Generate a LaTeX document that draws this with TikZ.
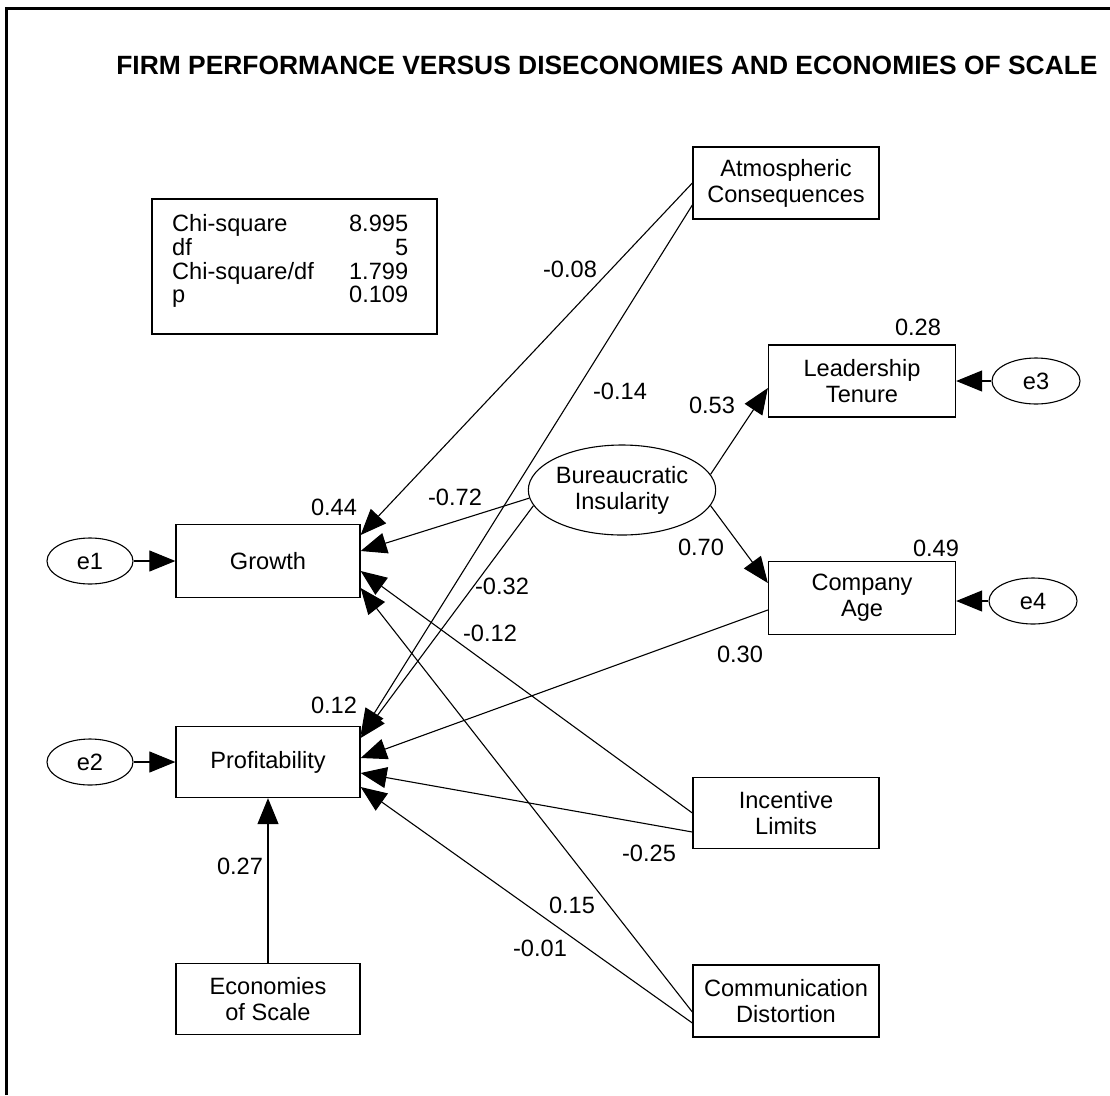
\documentclass[tikz,border=0pt]{standalone}
\usepackage{fontspec}
\setmainfont{Liberation Sans}
\usetikzlibrary{arrows.meta,shapes.geometric,calc}
\begin{document}
\begin{tikzpicture}[x=1pt,y=-1pt,
  every node/.style={font=\fontsize{23.6}{26}\selectfont},
  var/.style={draw, line width=1.3pt, minimum width=186pt, minimum height=72pt, inner sep=0pt, align=center},
  lat/.style={draw, ellipse, line width=1.1pt, inner sep=0pt, align=center},
  err/.style={lat, minimum width=88pt, minimum height=46pt},
  pth/.style={line width=1.1pt, -{Triangle[length=26pt,width=21pt]}},
  coef/.style={inner sep=0pt}]
\useasboundingbox (0,0) rectangle (1110,1095);
% open outer frame
\draw[line width=3pt] (6.5,1095) -- (6.5,8.5) -- (1110,8.5);

\node[font=\fontsize{26.4}{30}\selectfont\bfseries] (title) at (607,65)
  {FIRM PERFORMANCE VERSUS DISECONOMIES AND ECONOMIES OF SCALE};

% fit statistics
\node[draw, line width=1.3pt, minimum width=285pt, minimum height=135pt] (fit) at (294.5,266.5) {};
\node[anchor=base west, inner sep=0pt, font=\fontsize{23.6}{23.4}\selectfont] (fitstats) at (172,231)
  {\begin{tabular*}{236pt}[t]{@{}l@{\extracolsep{\fill}}r@{}}
   Chi-square & 8.995\\
   df & 5\\
   Chi-square/df & 1.799\\
   p & 0.109
   \end{tabular*}};

% observed variables
\node[var] (atmo) at (786,183) {Atmospheric\\Consequences};
\node[var, minimum width=187pt] (lead) at (862,381) {Leadership\\Tenure};
\node[var, minimum width=187pt, minimum height=73pt] (comp) at (862,598) {Company\\Age};
\node[var, minimum height=71pt] (incent) at (786,813) {Incentive\\Limits};
\node[var] (comm) at (786,1001) {Communication\\Distortion};
\node[var, minimum width=184pt, minimum height=73pt] (growth) at (268,561) {Growth};
\node[var, minimum width=184pt, minimum height=71pt] (profit) at (268,762) {Profitability};
\node[var, minimum width=184pt, minimum height=71pt] (econ) at (268,999) {Economies\\of Scale};

% latent variable and error terms
\node[lat, minimum width=186pt, minimum height=90pt] (bur) at (622,490) {Bureaucratic\\Insularity};
\node[err, minimum width=86pt] (e1) at (90,561) {e1};
\node[err, minimum width=86pt] (e2) at (90,762) {e2};
\node[err] (e3) at (1036,381) {e3};
\node[err] (e4) at (1033,601) {e4};

% paths
\draw[pth] (e1) -- (growth);
\draw[pth] (e2) -- (profit);
\draw[pth] (e3) -- (lead);
\draw[pth] (e4.west) -- (e4.west -| comp.east);
\draw[pth] (econ) -- (profit);

\draw[pth] (atmo.west) -- ($(growth.east)+(0,-26)$);
\draw[pth] ($(atmo.west)+(0,22)$) -- ($(profit.east)+(0,-27)$);
\draw[pth] (bur.185) -- ($(growth.east)+(0,-10)$);
\draw[pth] (bur.190) -- ($(profit.east)+(0,-24)$);
\draw[pth] (bur.10) -- ($(lead.west)+(0,7)$);
\draw[pth] (bur.-10) -- ($(comp.west)+(0,-15)$);
\draw[pth] ($(comp.west)+(0,12)$) -- ($(profit.east)+(0,-4)$);
\draw[pth] (incent.west) -- ($(growth.east)+(0,10)$);
\draw[pth] ($(incent.west)+(0,19)$) -- ($(profit.east)+(0,11)$);
\draw[pth] ($(comm.west)+(0,11)$) -- ($(growth.east)+(0,27)$);
\draw[pth] ($(comm.west)+(0,22)$) -- ($(profit.east)+(0,25)$);

% estimates
\node[coef] (r2growth) at (334,507) {0.44};
\node[coef] (r2profit) at (334,705) {0.12};
\node[coef] (r2lead) at (918,327) {0.28};
\node[coef] (r2comp) at (936,548) {0.49};
\node[coef] (b-atmo-g) at (570,269) {-0.08};
\node[coef] (b-atmo-p) at (620,391) {-0.14};
\node[coef] (b-bur-g) at (455,497) {-0.72};
\node[coef] (b-bur-p) at (502,586) {-0.32};
\node[coef] (b-bur-l) at (712,405) {0.53};
\node[coef] (b-bur-c) at (701,547) {0.70};
\node[coef] (b-comp-p) at (740,654) {0.30};
\node[coef] (b-inc-g) at (490,633) {-0.12};
\node[coef] (b-inc-p) at (649,853) {-0.25};
\node[coef] (b-comm-g) at (572,905) {0.15};
\node[coef] (b-comm-p) at (540,948) {-0.01};
\node[coef] (b-econ-p) at (240,866) {0.27};
\end{tikzpicture}
\end{document}
